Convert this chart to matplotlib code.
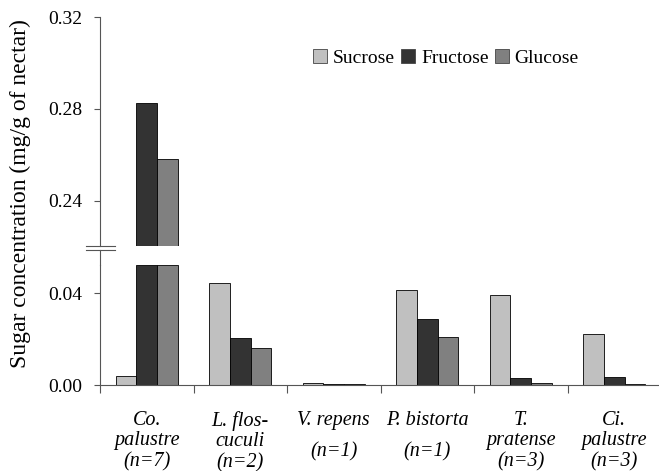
import matplotlib
matplotlib.use("Agg")
import matplotlib.pyplot as plt
import numpy as np
from matplotlib.lines import Line2D
from matplotlib.patches import Patch

plt.rcParams['font.family'] = ['Liberation Serif', 'DejaVu Serif']

species = ["Co.\npalustre\n(n=7)", "L. flos-\ncuculi\n(n=2)", "V. repens\n(n=1)",
           "P. bistorta\n(n=1)", "T.\npratense\n(n=3)", "Ci.\npalustre\n(n=3)"]
sucrose = [0.0040, 0.0445, 0.0008, 0.0412, 0.0391, 0.0220]
fructose = [0.2825, 0.0203, 0.0005, 0.0287, 0.0032, 0.0036]
glucose = [0.2580, 0.0160, 0.0003, 0.0209, 0.0007, 0.0003]
series_names = ["Sucrose", "Fructose", "Glucose"]
colors = ["#c0c0c0", "#333333", "#808080"]

low_max = 0.0522
high_min = 0.2203
high_max = 0.32

W, H = 659, 471
fig = plt.figure(figsize=(W / 100, H / 100), dpi=100)

def fx(px):
    return px / W

def fy(py):
    return 1 - py / H

left = fx(100)
right = fx(661)
ax_top = fig.add_axes([left, fy(246), right - left, fy(17) - fy(246)])
ax_bot = fig.add_axes([left, fy(385), right - left, fy(265) - fy(385)])

x = np.arange(len(species))
bw = 0.22
data = [sucrose, fructose, glucose]
for i, (vals, c, nm) in enumerate(zip(data, colors, series_names)):
    pos = x + (i - 1) * bw
    vals = np.array(vals)
    ax_bot.bar(pos, np.minimum(vals, low_max), width=bw, color=c, edgecolor='black',
               linewidth=0.6, label=nm)
    ax_top.bar(pos, vals, width=bw, color=c, edgecolor='black', linewidth=0.6)

for ax in (ax_top, ax_bot):
    ax.set_xlim(-0.5, len(species) - 0.5)
    for s in ['top', 'right']:
        ax.spines[s].set_visible(False)
    ax.spines['left'].set_color('#555555')
    ax.spines['left'].set_linewidth(0.8)
    ax.tick_params(axis='y', direction='out', length=4.5, width=0.8, color='#555555',
                   labelsize=14, pad=8)

ax_top.set_ylim(high_min, high_max)
ax_top.set_yticks([0.24, 0.28, 0.32])
ax_top.set_yticklabels(["0.24", "0.28", "0.32"])
ax_top.spines['bottom'].set_visible(False)
ax_top.set_xticks([])

ax_bot.set_ylim(0, low_max)
ax_bot.set_yticks([0.0, 0.04])
ax_bot.set_yticklabels(["0.00", "0.04"])
ax_bot.spines['bottom'].set_color('#555555')
ax_bot.spines['bottom'].set_linewidth(0.8)
ax_bot.spines['left'].set_bounds(0, low_max)
ax_bot.set_xticks(np.arange(len(species)) - 0.5)
ax_bot.set_xticklabels([])
ax_bot.tick_params(axis='x', which='major', direction='out', length=6, width=0.8,
                   color='#555555')
ax_bot.set_xticks(x, minor=True)
ax_bot.set_xticklabels(species, minor=True, fontstyle='italic', fontsize=14.5)
ax_bot.tick_params(axis='x', which='minor', length=0, pad=18.5)
for lab in ax_bot.get_xticklabels(minor=True):
    if lab.get_text().count("\n") == 1:
        lab.set_linespacing(1.85)
    else:
        lab.set_linespacing(1.12)

# axis continuation and break marks
fig.add_artist(Line2D([fx(100), fx(100)], [fy(249.5), fy(265)], color='#555555', lw=0.8))
for yy in (246, 249.5):
    fig.add_artist(Line2D([fx(86), fx(115)], [fy(yy), fy(yy)], color='#555555', lw=0.8))

handles = [Patch(facecolor=c, edgecolor='#444444', linewidth=0.6) for c in colors]
fig.legend(handles, series_names, loc='center', bbox_to_anchor=(fx(446), fy(58)),
           ncol=3, frameon=False, fontsize=14, handlelength=0.7, handleheight=0.7,
           handletextpad=0.3, columnspacing=0.35)

fig.text(fx(20), fy(194), "Sugar concentration (mg/g of nectar)", rotation=90,
         ha='center', va='center', fontsize=17)

fig.savefig("out.png", dpi=100)
